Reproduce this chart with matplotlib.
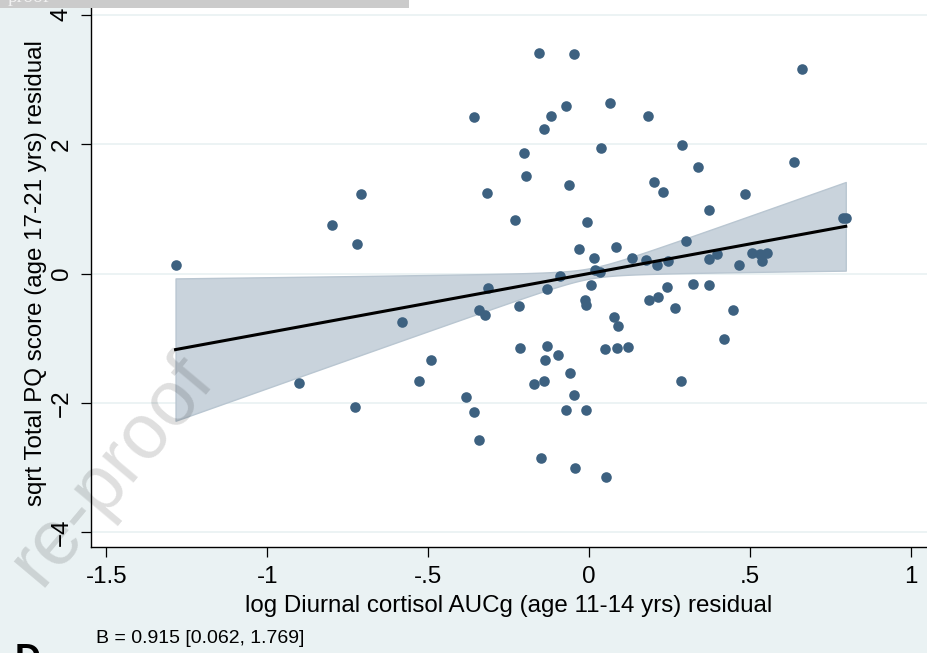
import matplotlib
matplotlib.use("Agg")
import matplotlib.pyplot as plt
from matplotlib.patches import Rectangle
import numpy as np

# residuals
x_resid = [-1.285, -0.902, -0.799, -0.721, -0.709, -0.728, -0.582, -0.530, -0.491, -0.382,
           -0.358, -0.357, -0.341, -0.323, -0.316, -0.313, -0.341, -0.230, -0.218, -0.216,
           -0.202, -0.195, -0.171, -0.156, -0.150, -0.141, -0.141, -0.136, -0.131, -0.131,
           -0.118, -0.097, -0.092, -0.072, -0.064, -0.060, -0.047, -0.048, -0.044, -0.031,
           -0.073, -0.009, -0.008, -0.013, -0.011, 0.006, 0.016, 0.019, 0.034, 0.037,
           0.048, 0.051, 0.065, 0.078, 0.083, 0.088, 0.085, 0.121, 0.134, 0.184,
           0.187, 0.200, 0.175, 0.211, 0.215, 0.228, 0.241, 0.246, 0.265, 0.285,
           0.288, 0.300, 0.322, 0.337, 0.371, 0.373, 0.372, 0.396, 0.418, 0.448,
           0.465, 0.483, 0.505, 0.531, 0.552, 0.537, 0.637, 0.660, 0.790, 0.797]
y_resid = [0.131, -1.692, 0.750, 0.456, 1.229, -2.063, -0.745, -1.662, -1.342, -1.913,
           2.414, -2.141, -0.564, -0.641, 1.249, -0.229, -2.573, 0.822, -0.498, -1.156,
           1.858, 1.512, -1.708, 3.408, -2.847, 2.233, -1.662, -1.332, -1.121, -0.240,
           2.434, -1.264, -0.043, 2.584, 1.372, -1.533, -1.883, 3.393, -3.002, 0.371,
           -2.110, -2.110, 0.791, -0.417, -0.491, -0.173, 0.247, 0.049, 0.023, 1.940,
           -1.162, -3.150, 2.631, -0.665, 0.406, -0.815, -1.151, -1.141, 0.240, 2.430,
           -0.417, 1.414, 0.209, 0.131, -0.366, 1.264, -0.216, 0.189, -0.529, -1.666,
           1.986, 0.507, -0.165, 1.646, 0.977, 0.224, -0.178, 0.297, -1.008, -0.560,
           0.127, 1.229, 0.321, 0.306, 0.321, 0.189, 1.723, 3.161, 0.858, 0.858]

# regression summary
B = 0.915
B_lo, B_hi = 0.062, 1.769
intercept = 0.0
se_mean = 0.08

xticks = [-1.5, -1, -0.5, 0, 0.5, 1]
xticklabels = ['-1.5', '-1', '-.5', '0', '.5', '1']
yticks = [-4, -2, 0, 2, 4]

bg = '#eaf2f3'
dot = '#3d6180'
fs = 17.4

plt.rcParams['font.family'] = ['Liberation Sans', 'DejaVu Sans']

fig = plt.figure(figsize=(9.27, 6.53), dpi=100, facecolor=bg)
W, H = 927, 653
ax = fig.add_axes([91 / W, (H - 547) / H, (W - 91) / W, 547 / H])
ax.set_facecolor('white')

xs = np.linspace(min(x_resid), max(x_resid), 200)
fit = intercept + B * xs
half = np.sqrt(se_mean ** 2 + ((B_hi - B_lo) / 2 * xs) ** 2)
ax.fill_between(xs, fit - half, fit + half, facecolor='#c9d3dc', edgecolor='#b9c6d1',
                lw=1, zorder=2)
ax.scatter(x_resid, y_resid, s=58, color=dot, linewidths=0, zorder=3)
ax.plot(xs, fit, color='black', lw=2.2, zorder=4)

ax.set_xlim(-1.5477, 1.0494)
ax.set_ylim(-4.227, 4.227)
ax.set_xticks(xticks)
ax.set_xticklabels(xticklabels)
ax.set_yticks(yticks)
ax.yaxis.grid(True, color=bg, lw=1.3, zorder=0)
ax.set_axisbelow(True)
for s in ['top', 'right']:
    ax.spines[s].set_visible(False)
for s in ['left', 'bottom']:
    ax.spines[s].set_linewidth(1.0)
ax.tick_params(length=7, width=0.9, labelsize=fs)
ax.tick_params(axis='x', pad=7)
ax.tick_params(axis='y', labelrotation=90, pad=6)
for lab in ax.get_yticklabels():
    lab.set_va('center')

ax.set_xlabel('log Diurnal cortisol AUCg (age 11-14 yrs) residual', fontsize=fs, labelpad=5)
ax.set_ylabel('sqrt Total PQ score (age 17-21 yrs) residual', fontsize=fs, labelpad=3)

fig.text(96 / W, (H - 643) / H, 'B = 0.915 [0.062, 1.769]', fontsize=14, va='baseline')
fig.text(15 / W, (H - 643) / H, 'D', fontsize=26, fontweight='bold', va='top')

# watermark and page strip
fig.text(112 / W, (H - 470) / H, 're-proof', fontsize=56, rotation=50, color='black',
         alpha=0.13, ha='center', va='center', zorder=10)
fig.patches.append(Rectangle((0, 1 - 7.5 / H), 409 / W, 7.5 / H, transform=fig.transFigure,
                             facecolor='#cbcbcb', edgecolor='none', zorder=10))
fig.text(8 / W, 1 - 2.5 / H, 'proof', fontsize=14, family='Liberation Serif',
         color='#f2f2f2', va='baseline', zorder=11)

fig.savefig('out.png', dpi=100, facecolor=bg)
